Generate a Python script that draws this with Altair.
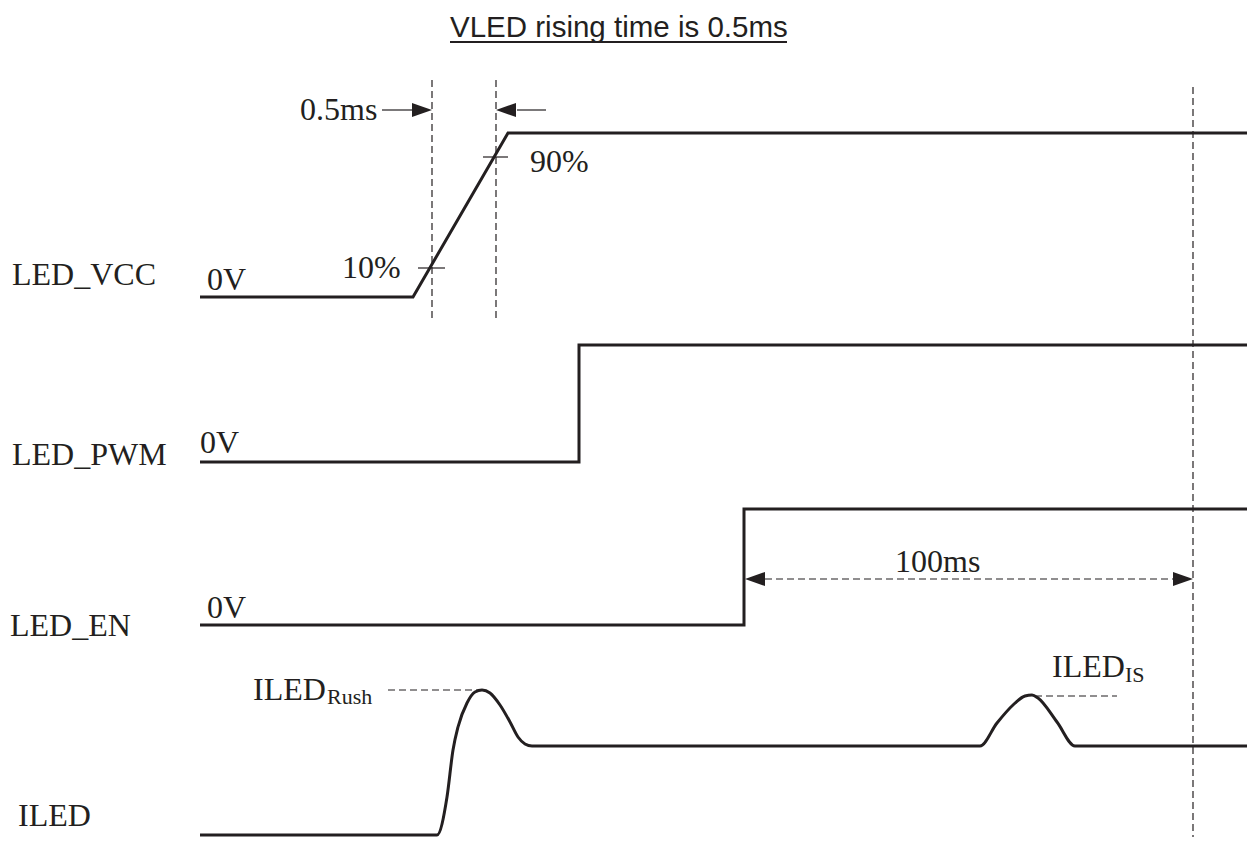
import altair as alt
import pandas as pd

# ---- waveform vertices (diagram units) ----
vcc_x = [200, 413, 508, 1255]
vcc_y = [297, 297, 133, 133]
pwm_x = [200, 579, 579, 1255]
pwm_y = [462, 462, 345, 345]
en_x = [200, 744, 744, 1255]
en_y = [625, 625, 509, 509]
iled_x = [200, 437, 447, 453, 458, 467, 475, 482, 490, 500, 510, 518, 525, 532,
          980, 997, 1013, 1025, 1032, 1038, 1057, 1075, 1255]
iled_y = [835, 835, 797, 750, 727, 703, 692, 690, 693, 705, 722, 737, 744, 746,
          746, 723, 705, 696, 695, 698, 722, 746, 746]

# ---- dashed guide segments ----
dash_x = [432, 496, 1193, 765, 388, 1035]
dash_y = [80, 80, 87, 579, 690, 696]
dash_x2 = [432, 496, 1193, 1173, 480, 1117]
dash_y2 = [322, 322, 840, 579, 690, 696]

# ---- thin solid segments (10%/90% ticks, arrow shafts) ----
thin_x = [418, 483, 382, 517]
thin_y = [268, 157, 110, 110]
thin_x2 = [445, 508, 412, 546]
thin_y2 = [268, 157, 110, 110]

# ---- arrowheads (tip position, direction angle) ----
head_x = [432, 496, 745, 1193]
head_y = [110, 110, 579, 579]
head_angle = [0, 180, 180, 0]

# ---- labels ----
lab_text = ["LED_VCC", "LED_PWM", "LED_EN", "ILED", "0V", "0V", "0V",
            "0.5ms", "10%", "90%", "100ms", "ILED", "ILED"]
lab_x = [12, 12, 10, 18, 207, 200, 207, 300, 342, 530, 895, 253, 1052]
lab_y = [285, 465, 636, 826, 290, 453, 618, 120, 278, 172, 572, 700, 677]
sub_text = ["Rush", "IS"]
sub_x = [327, 1125]
sub_y = [704, 682]
title_text = ["VLED rising time is 0.5ms"]
title_x = [450]
title_y = [37]
uline_x = [450]
uline_x2 = [787]
uline_y = [42]

INK = "#231f20"
W, H = 1239, 829
xs = alt.Scale(domain=[8, 8 + W], nice=False, zero=False)
ys = alt.Scale(domain=[8, 8 + H], nice=False, zero=False, reverse=True)
X = lambda f="x": alt.X(f"{f}:Q", scale=xs, axis=None)
Y = lambda f="y": alt.Y(f"{f}:Q", scale=ys, axis=None)

rows = []
for name, xx, yy in [("VCC", vcc_x, vcc_y), ("PWM", pwm_x, pwm_y), ("EN", en_x, en_y)]:
    for i, (a, b) in enumerate(zip(xx, yy)):
        rows.append({"sig": name, "i": i, "x": a, "y": b})
steps = pd.DataFrame(rows)
iled = pd.DataFrame({"i": range(len(iled_x)), "x": iled_x, "y": iled_y})

step_layer = alt.Chart(steps).mark_line(color=INK, strokeWidth=3).encode(
    x=X(), y=Y(), detail="sig:N", order="i:Q")
iled_layer = alt.Chart(iled).mark_line(color=INK, strokeWidth=3, interpolate="monotone").encode(
    x=X(), y=Y(), order="i:Q")

dashes = pd.DataFrame({"x": dash_x, "y": dash_y, "x2": dash_x2, "y2": dash_y2})
dash_layer = alt.Chart(dashes).mark_rule(color=INK, strokeWidth=1.2, strokeDash=[7, 4]).encode(
    x=X(), y=Y(), x2="x2:Q", y2="y2:Q")

thins = pd.DataFrame({"x": thin_x, "y": thin_y, "x2": thin_x2, "y2": thin_y2})
thin_layer = alt.Chart(thins).mark_rule(color=INK, strokeWidth=1.2).encode(
    x=X(), y=Y(), x2="x2:Q", y2="y2:Q")

heads = pd.DataFrame({"x": head_x, "y": head_y, "a": head_angle})
head_layer = alt.Chart(heads).mark_point(
    shape="M0,0L-1,-0.35L-1,0.35Z", size=1600, filled=True, color=INK, opacity=1, strokeWidth=0
).encode(x=X(), y=Y(), angle=alt.Angle("a:Q", scale=None))

labs = pd.DataFrame({"t": lab_text, "x": lab_x, "y": lab_y})
lab_layer = alt.Chart(labs).mark_text(
    font="Liberation Serif", fontSize=32, align="left", baseline="alphabetic", color=INK
).encode(x=X(), y=Y(), text="t:N")

subs = pd.DataFrame({"t": sub_text, "x": sub_x, "y": sub_y})
sub_layer = alt.Chart(subs).mark_text(
    font="Liberation Serif", fontSize=22, align="left", baseline="alphabetic", color=INK
).encode(x=X(), y=Y(), text="t:N")

tdf = pd.DataFrame({"t": title_text, "x": title_x, "y": title_y})
title_layer = alt.Chart(tdf).mark_text(
    font="Liberation Sans", fontSize=29.5, align="left", baseline="alphabetic", color=INK
).encode(x=X(), y=Y(), text="t:N")

udf = pd.DataFrame({"x": uline_x, "x2": uline_x2, "y": uline_y})
uline_layer = alt.Chart(udf).mark_rule(color=INK, strokeWidth=2).encode(
    x=X(), x2="x2:Q", y=Y())

chart = alt.layer(
    dash_layer, thin_layer, step_layer, iled_layer, head_layer,
    lab_layer, sub_layer, title_layer, uline_layer
).properties(
    width=W, height=H, autosize=alt.AutoSizeParams(type="none"), padding=0,
    background="white"
).configure_view(stroke=None)

chart.save("out.html", embed_options={"renderer": "svg", "actions": False})
